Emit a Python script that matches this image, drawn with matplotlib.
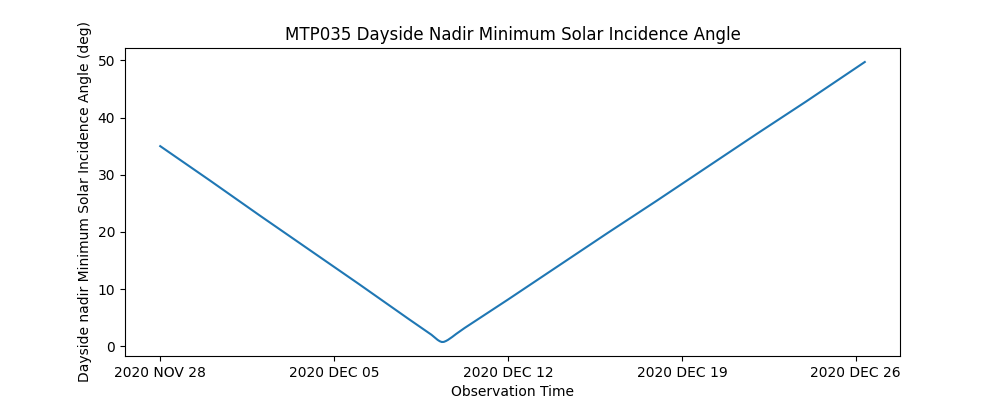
import matplotlib
matplotlib.use("Agg")
import matplotlib.pyplot as plt
import matplotlib.dates as mdates
import numpy as np
from datetime import datetime

# observation times and angle
times = [
    "2020-11-28 00:00", "2020-11-30 00:00", "2020-12-02 00:00", "2020-12-04 00:00",
    "2020-12-06 00:00", "2020-12-08 00:00", "2020-12-08 16:00", "2020-12-08 22:00",
    "2020-12-09 02:00", "2020-12-09 04:00", "2020-12-09 06:00", "2020-12-09 08:00",
    "2020-12-09 10:00", "2020-12-09 12:00", "2020-12-09 14:00", "2020-12-09 18:00",
    "2020-12-09 22:00", "2020-12-10 06:00", "2020-12-12 00:00", "2020-12-14 00:00",
    "2020-12-16 00:00", "2020-12-18 00:00", "2020-12-20 00:00", "2020-12-22 00:00",
    "2020-12-24 00:00", "2020-12-26 08:40",
]
angles = [
    35.0, 29.0, 22.9, 16.9,
    10.9, 4.8, 2.8, 2.05,
    1.45, 1.15, 0.92, 0.78,
    0.8, 0.95, 1.15, 1.65,
    2.2, 3.22, 8.2, 14.0,
    19.8, 25.5, 31.3, 37.1,
    42.8, 49.7,
]

t = [datetime.strptime(s, "%Y-%m-%d %H:%M") for s in times]

fig, ax = plt.subplots(figsize=(10, 4), dpi=100)
ax.plot(t, angles)

ax.xaxis.set_major_locator(mdates.WeekdayLocator(byweekday=mdates.SA))
ax.xaxis.set_major_formatter(plt.FuncFormatter(
    lambda v, p: mdates.num2date(v).strftime("%Y %b %d").upper()))

ax.set_title("MTP035 Dayside Nadir Minimum Solar Incidence Angle")
ax.set_xlabel("Observation Time")
ax.set_ylabel("Dayside nadir Minimum Solar Incidence Angle (deg)")

fig.savefig("out.png")
